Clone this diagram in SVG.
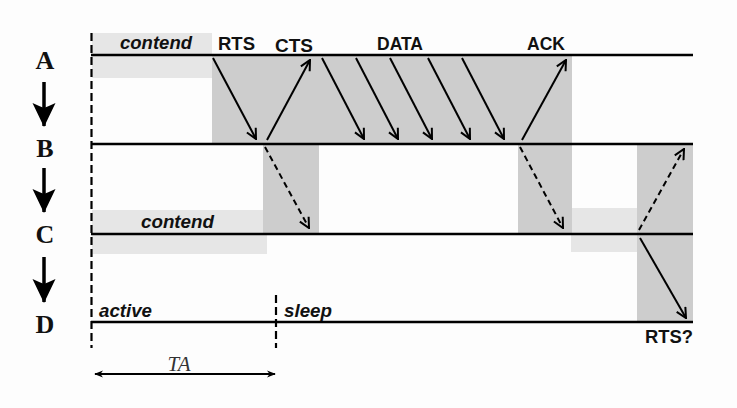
<svg xmlns="http://www.w3.org/2000/svg" width="737" height="408" viewBox="0 0 737 408">
<defs>
<marker id="v" viewBox="0 0 12 12" refX="11" refY="6" markerWidth="12" markerHeight="12" markerUnits="userSpaceOnUse" orient="auto">
<path d="M1,1 L11,6 L1,11" fill="none" stroke="#000" stroke-width="2"/>
</marker>
<marker id="sm" viewBox="0 0 10 10" refX="9" refY="5" markerWidth="9" markerHeight="9" markerUnits="userSpaceOnUse" orient="auto-start-reverse">
<path d="M0,1 L10,5 L0,9 L3,5 Z" fill="#000"/>
</marker>
<marker id="fd" viewBox="0 0 24 24" refX="12" refY="23" markerWidth="24" markerHeight="24" markerUnits="userSpaceOnUse" orient="0">
<path d="M0.5,0 Q7,3 12,5 Q17,3 23.5,0 L12,24 Z" fill="#000"/>
</marker>
</defs>
<style>
.dark{fill:#cdcdcd}
.light{fill:#e6e6e6}
.line{stroke:#000;stroke-width:2.6;fill:none}
.dash{stroke:#000;stroke-width:2.2;stroke-dasharray:8 4;fill:none}
.arr{stroke:#000;stroke-width:2;fill:none;marker-end:url(#v)}
.darr{stroke:#000;stroke-width:2;fill:none;stroke-dasharray:6 4;marker-end:url(#v)}
.lbl{font-family:"Liberation Sans",Arial,sans-serif;font-weight:bold;font-size:18px;fill:#111}
.it{font-family:"Liberation Sans",Arial,sans-serif;font-weight:bold;font-style:italic;font-size:18px;fill:#111}
.node{font-family:"Liberation Serif","Times New Roman",serif;font-weight:bold;font-size:26px;fill:#111}
.down{stroke:#000;stroke-width:3.5;fill:none;marker-end:url(#fd)}
</style>
<rect width="737" height="408" fill="#fdfdfd"/>
<g id="regions">
<rect class="light" x="92" y="33" width="120" height="45"/>
<rect class="light" x="92" y="210" width="175" height="44"/>
<rect class="light" x="571" y="208" width="66" height="44"/>
<rect class="dark" x="212" y="56" width="360" height="88"/>
<rect class="dark" x="263" y="144" width="56" height="90"/>
<rect class="dark" x="518" y="144" width="54" height="90"/>
<rect class="dark" x="637" y="144" width="56" height="178"/>
</g>
<g id="node-A">
<text class="node" x="45" y="69" text-anchor="middle">A</text>
<line class="line" x1="91" y1="55" x2="693" y2="55"/>
</g>
<g id="node-B">
<text class="node" x="45" y="157" text-anchor="middle">B</text>
<line class="line" x1="91" y1="144" x2="693" y2="144"/>
</g>
<g id="node-C">
<text class="node" x="45" y="243" text-anchor="middle">C</text>
<line class="line" x1="91" y1="234" x2="693" y2="234"/>
</g>
<g id="node-D">
<text class="node" x="45" y="333" text-anchor="middle">D</text>
<line class="line" x1="91" y1="322" x2="693" y2="322"/>
</g>
<g id="labels">
<text class="it" x="120" y="49" textLength="72" lengthAdjust="spacingAndGlyphs">contend</text>
<text class="lbl" x="218" y="50" textLength="37" lengthAdjust="spacingAndGlyphs">RTS</text>
<text class="lbl" x="275" y="52" textLength="38" lengthAdjust="spacingAndGlyphs">CTS</text>
<text class="lbl" x="377" y="50" textLength="46" lengthAdjust="spacingAndGlyphs">DATA</text>
<text class="lbl" x="527" y="50" textLength="38" lengthAdjust="spacingAndGlyphs">ACK</text>
<text class="it" x="141" y="228" textLength="73" lengthAdjust="spacingAndGlyphs">contend</text>
<text class="it" x="99" y="317" textLength="53" lengthAdjust="spacingAndGlyphs">active</text>
<text class="it" x="284" y="317" textLength="48" lengthAdjust="spacingAndGlyphs">sleep</text>
<text class="lbl" x="645" y="343" textLength="48" lengthAdjust="spacingAndGlyphs">RTS?</text>
<text x="179" y="371" text-anchor="middle" font-family="'Liberation Serif','Times New Roman',serif" font-style="italic" font-size="21" fill="#333">TA</text>
</g>
<g id="connectors">
<line class="dash" x1="91.5" y1="33" x2="91.5" y2="348"/>
<line class="dash" x1="276" y1="295" x2="276" y2="348"/>
<line x1="95" y1="374" x2="275" y2="374" stroke="#000" stroke-width="2" marker-start="url(#sm)" marker-end="url(#sm)"/>
<line class="down" x1="44" y1="82" x2="44" y2="126"/>
<line class="down" x1="44" y1="168" x2="44" y2="212"/>
<line class="down" x1="44" y1="257" x2="44" y2="302"/>
<line class="arr" x1="213" y1="58" x2="256" y2="139"/>
<line class="arr" x1="267" y1="140" x2="310" y2="60"/>
<line class="arr" x1="322" y1="58" x2="364" y2="139"/>
<line class="arr" x1="356" y1="58" x2="398" y2="139"/>
<line class="arr" x1="390" y1="58" x2="432" y2="139"/>
<line class="arr" x1="428" y1="58" x2="470" y2="139"/>
<line class="arr" x1="462" y1="58" x2="504" y2="139"/>
<line class="arr" x1="522" y1="140" x2="566" y2="60"/>
<line class="darr" x1="265" y1="147" x2="309" y2="228"/>
<line class="darr" x1="520" y1="147" x2="563" y2="228"/>
<line class="darr" x1="639" y1="230" x2="684" y2="149"/>
<line class="arr" x1="640" y1="238" x2="686" y2="318"/>
</g>
</svg>
